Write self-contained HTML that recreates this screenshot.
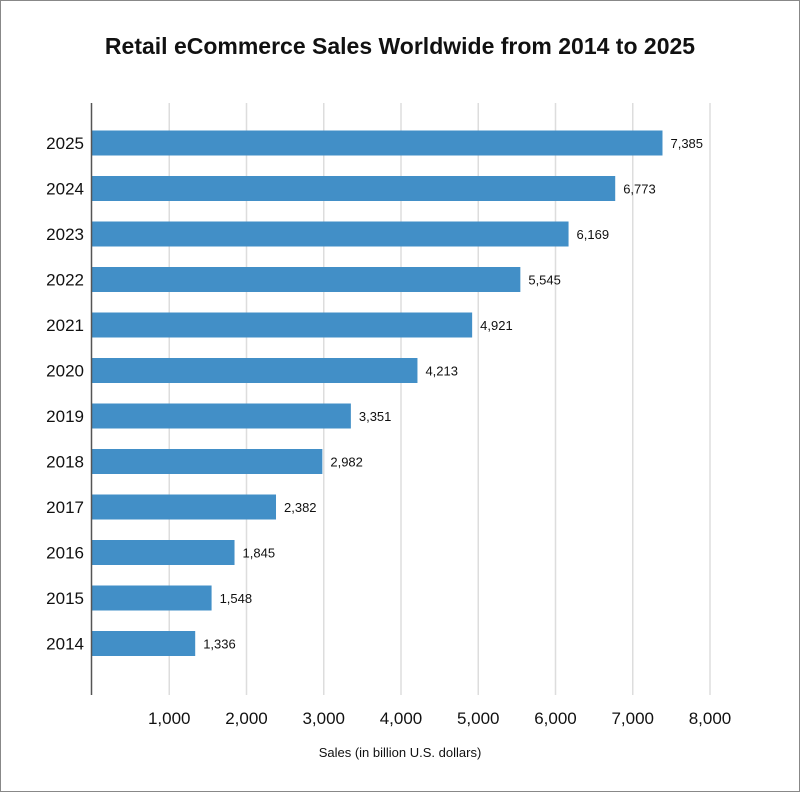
<!DOCTYPE html>
<html><head><meta charset="utf-8"><style>
body{margin:0;background:#fff;}
svg{display:block;font-family:"Liberation Sans",sans-serif;}
</style></head><body>
<svg id="chart" width="800" height="792">
<rect x="0.5" y="0.5" width="799" height="791" fill="#fff" stroke="#888"/>
<text x="400" y="54" text-anchor="middle" font-size="23" font-weight="bold" fill="#111">Retail eCommerce Sales Worldwide from 2014 to 2025</text>
<g id="grid"></g><g id="bars"></g><g id="xticks"></g><g id="yticks"></g>
<line x1="91.5" y1="103" x2="91.5" y2="695" stroke="#555" stroke-width="1.5"/>
<text x="400" y="757" text-anchor="middle" font-size="13" fill="#111">Sales (in billion U.S. dollars)</text>
</svg>
<script>
const categories=["2025","2024","2023","2022","2021","2020","2019","2018","2017","2016","2015","2014"];
const values=[7385,6773,6169,5545,4921,4213,3351,2982,2382,1845,1548,1336];
const valueLabels=["7,385","6,773","6,169","5,545","4,921","4,213","3,351","2,982","2,382","1,845","1,548","1,336"];
const tickValues=[1000,2000,3000,4000,5000,6000,7000,8000];
const tickLabels=["1,000","2,000","3,000","4,000","5,000","6,000","7,000","8,000"];
const NS="http://www.w3.org/2000/svg";
const x0=92,x1=710,xMax=8000;
const xs=v=>x0+(x1-x0)*v/xMax;
const ys=i=>143+i*45.5;
function mk(t,a,p){const e=document.createElementNS(NS,t);for(const k in a)e.setAttribute(k,a[k]);p.appendChild(e);return e;}
const grid=document.getElementById('grid'),bars=document.getElementById('bars'),xt=document.getElementById('xticks'),yt=document.getElementById('yticks');
tickValues.forEach((v,i)=>{
 const l=mk('line',{x1:xs(v),x2:xs(v),y1:103,y2:695,stroke:'#ddd','stroke-width':1.5},grid);
 
 
 const t=mk('text',{x:xs(v),y:724,'text-anchor':'middle','font-size':17,fill:'#111'},xt);
 t.textContent=tickLabels[i];
 
 
});
categories.forEach((c,i)=>{
 const y=ys(i);
 const r=mk('rect',{x:x0,y:y-12.5,width:xs(values[i])-x0,height:25,fill:'#428fc7'},bars);
 
 
 const v=mk('text',{x:xs(values[i])+8,y:y+5,'font-size':13,fill:'#111'},bars);
 v.textContent=valueLabels[i];
 
 
 const t=mk('text',{x:84,y:y+6,'text-anchor':'end','font-size':17,fill:'#111'},yt);
 t.textContent=c;
 
 
});
</script>
</body></html>
